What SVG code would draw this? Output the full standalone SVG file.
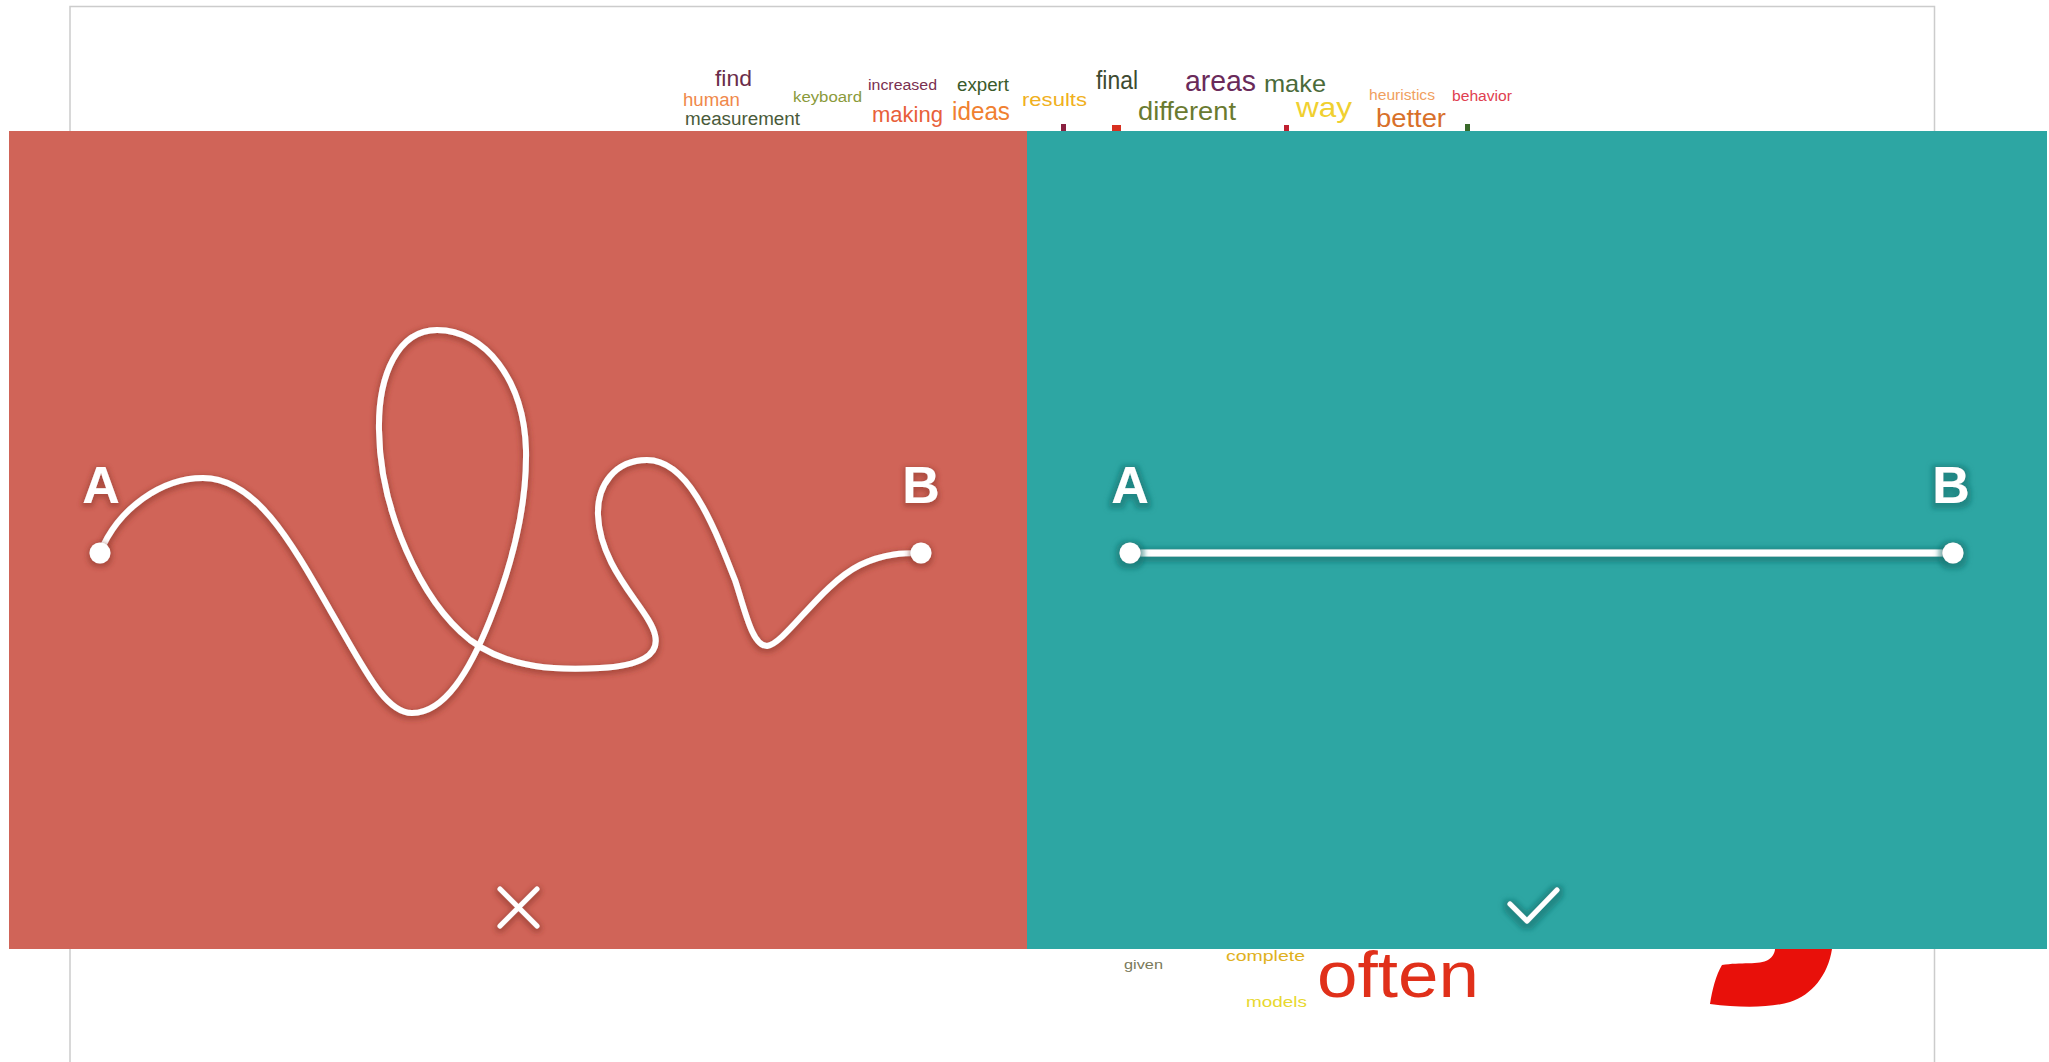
<svg xmlns="http://www.w3.org/2000/svg" width="2049" height="1062" viewBox="0 0 2049 1062">
<style>
.w{font-family:"Liberation Sans",Arial,sans-serif;}
.lbl{font-family:"Liberation Sans",Arial,sans-serif;font-weight:bold;font-size:52px;fill:#ffffff;text-anchor:middle;}
.frame{fill:none;stroke:#cccccc;stroke-width:1.5;}
.path{fill:none;stroke:#ffffff;stroke-width:6;stroke-linecap:round;stroke-linejoin:round;}
.mark{fill:none;stroke:#ffffff;stroke-width:5;stroke-linecap:round;stroke-linejoin:round;}
</style>
<defs>
<filter id="shR" filterUnits="userSpaceOnUse" x="0" y="0" width="2049" height="1062">
<feMorphology in="SourceAlpha" operator="dilate" radius="2" result="d"/>
<feGaussianBlur in="d" stdDeviation="2.5" result="b"/>
<feOffset in="b" dy="2" result="o"/>
<feFlood flood-color="#8a3428" flood-opacity="0.5"/>
<feComposite in2="o" operator="in" result="s"/>
<feMerge><feMergeNode in="s"/><feMergeNode in="SourceGraphic"/></feMerge>
</filter>
<filter id="shT" filterUnits="userSpaceOnUse" x="0" y="0" width="2049" height="1062">
<feMorphology in="SourceAlpha" operator="dilate" radius="4" result="d"/>
<feGaussianBlur in="d" stdDeviation="2.5" result="b"/>
<feOffset in="b" dy="2" result="o"/>
<feFlood flood-color="#136f6c" flood-opacity="0.55"/>
<feComposite in2="o" operator="in" result="s"/>
<feMerge><feMergeNode in="s"/><feMergeNode in="SourceGraphic"/></feMerge>
</filter>
</defs>
<rect x="0" y="0" width="2049" height="1062" fill="#ffffff"/>
<path class="frame" d="M70,1062 V6.5 H1934.5 V1062"/>

<g id="wordcloud" class="w">
<text x="715" y="86" font-size="22" fill="#6b2d4a" textLength="37" lengthAdjust="spacingAndGlyphs">find</text>
<text x="683" y="106" font-size="18" fill="#f0884a" textLength="57" lengthAdjust="spacingAndGlyphs">human</text>
<text x="685" y="125" font-size="18" fill="#4a5a3a" textLength="115" lengthAdjust="spacingAndGlyphs">measurement</text>
<text x="793" y="102" font-size="14" fill="#8a9a3a" textLength="69" lengthAdjust="spacingAndGlyphs">keyboard</text>
<text x="868" y="90" font-size="14" fill="#7a3050" textLength="69" lengthAdjust="spacingAndGlyphs">increased</text>
<text x="957" y="91" font-size="18" fill="#3a5a2a" textLength="52" lengthAdjust="spacingAndGlyphs">expert</text>
<text x="872" y="122" font-size="22" fill="#e8603a" textLength="71" lengthAdjust="spacingAndGlyphs">making</text>
<text x="952" y="120" font-size="25" fill="#f08030" textLength="58" lengthAdjust="spacingAndGlyphs">ideas</text>
<text x="1022" y="106" font-size="18" fill="#f0b020" textLength="65" lengthAdjust="spacingAndGlyphs">results</text>
<text x="1096" y="89" font-size="25" fill="#3d4a30" textLength="42" lengthAdjust="spacingAndGlyphs">final</text>
<text x="1185" y="91" font-size="30" fill="#6a2a5a" textLength="71" lengthAdjust="spacingAndGlyphs">areas</text>
<text x="1264" y="92" font-size="24" fill="#4a6a3a" textLength="62" lengthAdjust="spacingAndGlyphs">make</text>
<text x="1138" y="120" font-size="25" fill="#6a7a30" textLength="98" lengthAdjust="spacingAndGlyphs">different</text>
<text x="1296" y="117" font-size="28" fill="#f0d030" textLength="56" lengthAdjust="spacingAndGlyphs">way</text>
<text x="1369" y="100" font-size="14" fill="#f0a060" textLength="66" lengthAdjust="spacingAndGlyphs">heuristics</text>
<text x="1452" y="101" font-size="14" fill="#e04050" textLength="60" lengthAdjust="spacingAndGlyphs">behavior</text>
<text x="1376" y="127" font-size="26" fill="#d8702a" textLength="70" lengthAdjust="spacingAndGlyphs">better</text>
<rect x="1061" y="124" width="5" height="8" fill="#8a2040"/>
<rect x="1112" y="125" width="9" height="7" fill="#d83020"/>
<rect x="1284" y="125" width="5" height="7" fill="#c02030"/>
<rect x="1465" y="124" width="5" height="8" fill="#3a6a2a"/>
<text x="1317" y="997" font-size="64" fill="#e0301a" textLength="162" lengthAdjust="spacingAndGlyphs">often</text>
<text x="1226" y="961" font-size="15" fill="#e0b020" textLength="79" lengthAdjust="spacingAndGlyphs">complete</text>
<text x="1124" y="969" font-size="13" fill="#7a7a5a" textLength="39" lengthAdjust="spacingAndGlyphs">given</text>
<text x="1246" y="1007" font-size="15" fill="#e8d830" textLength="61" lengthAdjust="spacingAndGlyphs">models</text>
<path d="M1775,949 L1832,949 C1828,975 1812,995 1790,1002 C1770,1008 1740,1008 1710,1004 C1712,990 1716,975 1722,965 C1740,962 1760,965 1768,960 C1773,957 1775,952 1775,949 Z" fill="#e8100a"/>
</g>

<g id="panel-wrong">
<rect x="9" y="131" width="1018" height="818" fill="#d06458"/>
</g>
<g id="panel-right">
<rect x="1027" y="131" width="1020" height="818" fill="#2da6a3"/>
</g>

<g id="connectors">
<path class="path" filter="url(#shR)" d="M100,553 C118,508 162,478 203,478 C255,478 290,540 330,610 C365,670 385,713 412,713 C445,713 470,670 490,620 C512,565 527,505 526,450 C524,380 485,330 437,330 C398,330 378,375 379,430 C380,510 420,600 470,640 C510,670 560,670 600,668 C640,666 660,655 655,635 C650,610 600,570 598,515 C597,485 615,460 647,460 C690,460 715,530 735,580 C745,610 752,646 767,646 C785,644 820,585 860,565 C885,553 905,553 921,553"/>
<rect x="1130" y="549.5" width="823" height="7" fill="#ffffff" filter="url(#shT)"/>
</g>

<g id="node-A-wrong" filter="url(#shR)">
<circle cx="100" cy="553" r="10.5" fill="#ffffff"/>
<text class="lbl" x="101" y="503">A</text>
</g>
<g id="node-B-wrong" filter="url(#shR)">
<circle cx="921" cy="553" r="10.5" fill="#ffffff"/>
<text class="lbl" x="921" y="503">B</text>
</g>
<g id="node-A-right" filter="url(#shT)">
<circle cx="1130" cy="553" r="10.5" fill="#ffffff"/>
<text class="lbl" x="1130" y="503">A</text>
</g>
<g id="node-B-right" filter="url(#shT)">
<circle cx="1953" cy="553" r="10.5" fill="#ffffff"/>
<text class="lbl" x="1951" y="503">B</text>
</g>

<g id="mark-cross" filter="url(#shR)">
<path class="mark" d="M500,889 L537,926 M537,889 L500,926"/>
</g>
<g id="mark-check" filter="url(#shT)">
<path class="mark" d="M1510,904 L1527,921 L1557,890"/>
</g>
</svg>
